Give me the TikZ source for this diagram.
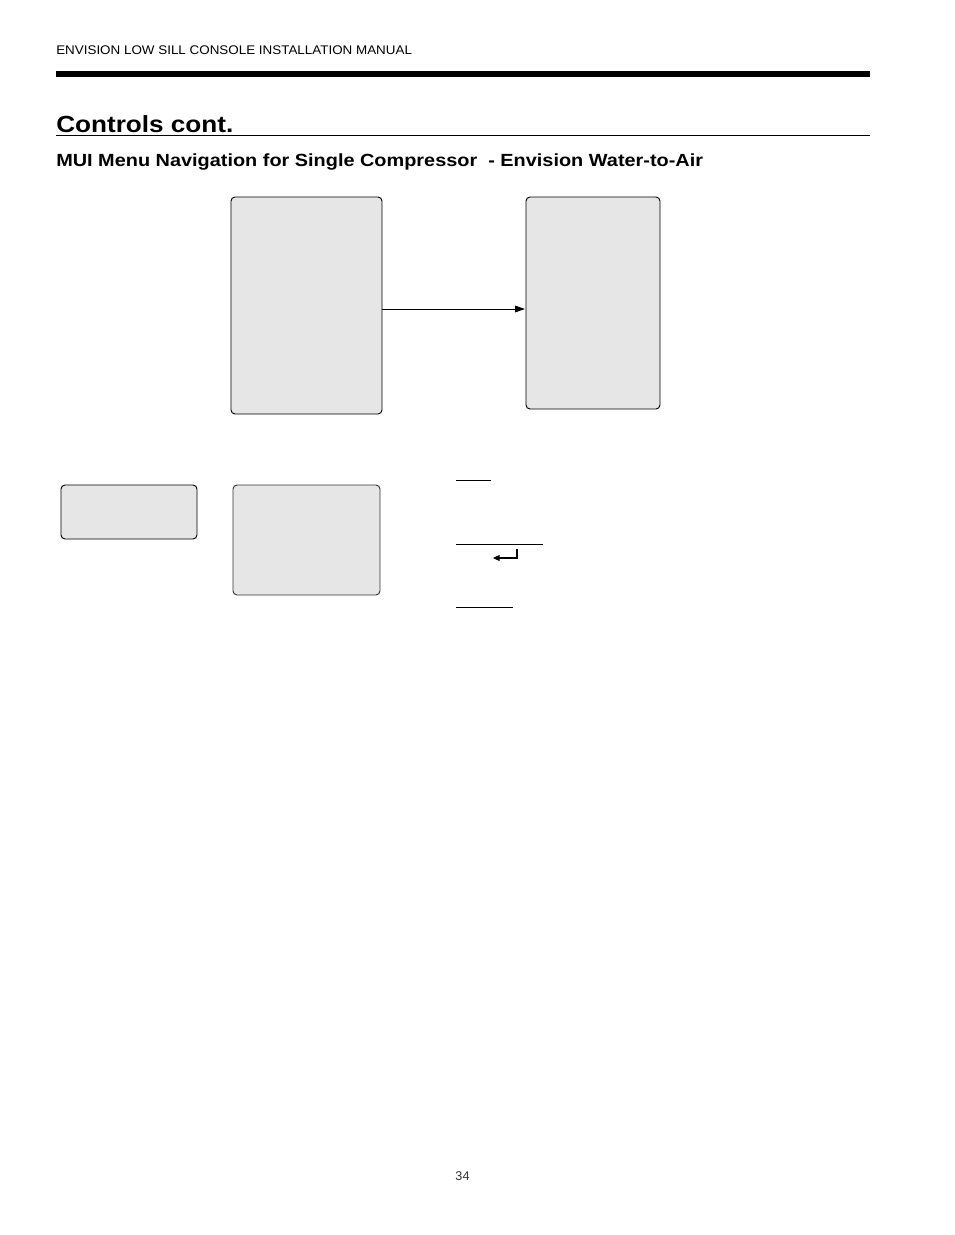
\documentclass[tikz,border=0pt]{standalone}
\usepackage{fontspec}
\setmainfont{Liberation Sans}
\newfontfamily\hdrfont[FakeStretch=1.07]{Liberation Sans}
\newfontfamily\titlefont[FakeStretch=1.12]{Liberation Sans}
\newfontfamily\subfont[FakeStretch=1.13]{Liberation Sans}
\usetikzlibrary{arrows.meta}
\definecolor{boxgray}{HTML}{E6E6E6}
\tikzset{
  screen/.style={draw=black, fill=boxgray, rounded corners=3pt, line width=0.7pt},
  rulethin/.style={line width=0.6pt},
  conn/.style={line width=0.7pt, -{Triangle[length=7.5pt,width=5pt]}},
}
\begin{document}
\begin{tikzpicture}[x=0.75pt,y=-0.75pt]
\useasboundingbox (0,0) rectangle (954,1235);
% header
\node[anchor=base west, inner sep=0pt, font=\hdrfont\fontsize{9.4}{11}\selectfont] (hdr) at (56,54) {ENVISION LOW SILL CONSOLE INSTALLATION MANUAL};
\fill (56,71) rectangle (870,77);
\node[anchor=base west, inner sep=0pt, font=\titlefont\fontsize{17.5}{20}\selectfont\bfseries] (title) at (56,132) {Controls cont.};
\draw[rulethin] (56,135.5) -- (870,135.5);
\node[anchor=base west, inner sep=0pt, font=\subfont\fontsize{13.2}{15}\selectfont\bfseries] (sub) at (56,166) {MUI Menu Navigation for Single Compressor\ \ - Envision Water-to-Air};
% screens
\draw[screen] (231,197) rectangle (382,414);
\draw[screen] (526,197) rectangle (660,409);
\coordinate (a1) at (382,309);
\coordinate (a2) at (525,309);
\draw[conn] (a1) -- (a2);
\draw[screen] (61,485) rectangle (197,539);
\draw[screen, draw=black!80] (233,485) rectangle (380,595);
% underlines
\coordinate (u1a) at (456,480); \coordinate (u1b) at (491,480);
\coordinate (u2a) at (456,544); \coordinate (u2b) at (543,544);
\coordinate (u3a) at (456,607); \coordinate (u3b) at (513,607);
\draw[rulethin] (u1a) -- (u1b);
\draw[rulethin] (u2a) -- (u2b);
\draw[rulethin] (u3a) -- (u3b);
% enter symbol
\coordinate (e1) at (517,549); \coordinate (e2) at (517,558); \coordinate (e3) at (493,558);
\draw[line width=0.8pt, -{Triangle[length=5pt,width=4.5pt]}] (e1) -- (e2) -- (e3);
% page number
\node[inner sep=0pt, font=\fontsize{9.5}{10}\selectfont, text=black!80] (pg) at (462.5,1176) {34};
\end{tikzpicture}
\end{document}
